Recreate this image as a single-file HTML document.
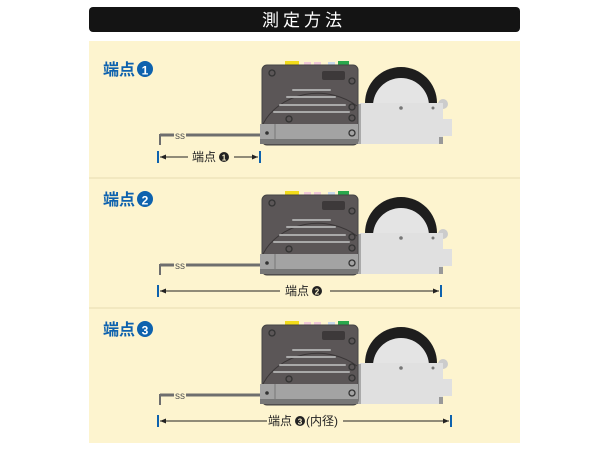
<!DOCTYPE html>
<html><head><meta charset="utf-8"><style>
body{margin:0;background:#fff;width:610px;height:450px;overflow:hidden}
svg{display:block}
text{font-family:"Liberation Sans","Noto Sans CJK JP",sans-serif}
</style></head><body>
<svg width="610" height="450" viewBox="0 0 610 450">
<defs>
<g id="dev">
 <!-- wheel -->
 <circle cx="401" cy="103" r="36" fill="#1e1e1e"/>
 <circle cx="401" cy="106" r="28" fill="#e4e4e4"/>
 <circle cx="443" cy="104" r="5" fill="#ccc"/>
 <!-- white box -->
 <path d="M360,103 H443 V119 H452 V136 H443 V144 H360 Z" fill="#e0e0e0"/>
 <rect x="439" y="137" width="4" height="7" fill="#999"/>
 <circle cx="401" cy="108" r="1.8" fill="#777"/>
 <circle cx="433" cy="108" r="1.5" fill="#777"/>
 <rect x="356" y="104" width="5" height="40" fill="#aaa"/>
 <!-- tabs -->
 <rect x="285" y="61" width="14" height="5" fill="#f3dc1a"/>
 <rect x="304" y="62" width="7" height="4" fill="#f0c8d8"/>
 <rect x="314" y="62" width="7" height="4" fill="#f0c8d8"/>
 <rect x="328" y="62" width="7" height="4" fill="#c8d8ec"/>
 <rect x="338" y="61" width="11" height="5" fill="#2aa84c"/>
 <!-- body -->
 <rect x="262" y="65" width="96" height="80" rx="5" fill="#5b5657" stroke="#444" stroke-width="1"/>
 <path d="M263,124 A60 52 0 0 1 357,106" fill="none" stroke="#3a3637" stroke-width="1"/>
 <rect x="322" y="71" width="23" height="9" rx="2" fill="#3d393a"/>
 <g stroke="#a9a9a9" stroke-width="2" stroke-linecap="round">
  <line x1="293" y1="90" x2="330" y2="90"/>
  <line x1="287" y1="97" x2="335" y2="97"/>
  <line x1="280" y1="105" x2="345" y2="105"/>
  <line x1="274" y1="112" x2="349" y2="112"/>
 </g>
 <g fill="none" stroke="#333" stroke-width="1.3">
  <circle cx="272" cy="73" r="3"/><circle cx="352" cy="81" r="3"/>
  <circle cx="352" cy="107" r="3"/><circle cx="352" cy="118" r="3"/>
  <circle cx="289" cy="119" r="3"/>
 </g>
 <!-- rail -->
 <rect x="260" y="124" width="98" height="16" fill="#a3a3a3"/>
 <rect x="260" y="139" width="98" height="5" fill="#777"/>
 <line x1="275" y1="124" x2="275" y2="140" stroke="#777"/>
 <circle cx="267" cy="133" r="1.8" fill="#333"/>
 <circle cx="352" cy="133" r="3" fill="none" stroke="#333" stroke-width="1.3"/>
 <!-- probe -->
 <line x1="160" y1="135" x2="260" y2="135" stroke="#6e6e6e" stroke-width="3"/>
 <line x1="160" y1="134" x2="160" y2="145" stroke="#6e6e6e" stroke-width="2"/>
 <rect x="174" y="130" width="12" height="10" fill="#fdf4cf"/>
 <text x="175" y="139" font-size="10" fill="#555">ss</text>
</g>
<marker id="ah" markerWidth="6" markerHeight="6" refX="6" refY="3" orient="auto"><path d="M0,0.5 L6,3 L0,5.5Z" fill="#222"/></marker>
</defs>
<rect x="89" y="7" width="431" height="25" rx="4" fill="#141414"/>
<text x="304" y="26" font-size="17" fill="#fff" text-anchor="middle" letter-spacing="4">測定方法</text>
<rect x="89" y="41" width="431" height="402" fill="#fdf4cf"/>
<line x1="89" y1="178" x2="520" y2="178" stroke="#e6dcb0"/>
<line x1="89" y1="308" x2="520" y2="308" stroke="#e6dcb0"/>

<g font-size="16" font-weight="bold" fill="#0e62ae">
 <text x="103" y="75">端点</text><circle cx="145" cy="69" r="8" fill="#0e62ae"/><text x="145" y="74.5" font-size="12" fill="#fff" text-anchor="middle">1</text>
 <text x="103" y="205">端点</text><circle cx="145" cy="199" r="8" fill="#0e62ae"/><text x="145" y="204.5" font-size="12" fill="#fff" text-anchor="middle">2</text>
 <text x="103" y="335">端点</text><circle cx="145" cy="329" r="8" fill="#0e62ae"/><text x="145" y="334.5" font-size="12" fill="#fff" text-anchor="middle">3</text>
</g>

<use href="#dev"/>
<use href="#dev" y="130"/>
<use href="#dev" y="260"/>

<!-- dimensions -->
<g stroke="#222" stroke-width="1">
 <line x1="188" y1="157" x2="160" y2="157" marker-end="url(#ah)"/>
 <line x1="234" y1="157" x2="258" y2="157" marker-end="url(#ah)"/>
 <line x1="280" y1="291" x2="160" y2="291" marker-end="url(#ah)"/>
 <line x1="330" y1="291" x2="439" y2="291" marker-end="url(#ah)"/>
 <line x1="267" y1="421" x2="160" y2="421" marker-end="url(#ah)"/>
 <line x1="343" y1="421" x2="449" y2="421" marker-end="url(#ah)"/>
</g>
<g stroke="#0e62ae" stroke-width="2">
 <line x1="158" y1="151" x2="158" y2="163"/><line x1="260" y1="151" x2="260" y2="163"/>
 <line x1="158" y1="285" x2="158" y2="297"/><line x1="441" y1="285" x2="441" y2="297"/>
 <line x1="158" y1="415" x2="158" y2="427"/><line x1="451" y1="415" x2="451" y2="427"/>
</g>
<g font-size="12" fill="#222">
 <text x="192" y="161">端点</text><circle cx="224" cy="157" r="5" fill="#222"/><text x="224" y="160.5" font-size="8" fill="#fdf4cf" text-anchor="middle" font-weight="bold">1</text>
 <text x="285" y="295">端点</text><circle cx="317" cy="291" r="5" fill="#222"/><text x="317" y="294.5" font-size="8" fill="#fdf4cf" text-anchor="middle" font-weight="bold">2</text>
 <text x="268" y="425">端点</text><circle cx="300" cy="421" r="5" fill="#222"/><text x="300" y="424.5" font-size="8" fill="#fdf4cf" text-anchor="middle" font-weight="bold">3</text>
 <text x="306" y="425">(内径)</text>
</g>
</svg>
</body></html>
